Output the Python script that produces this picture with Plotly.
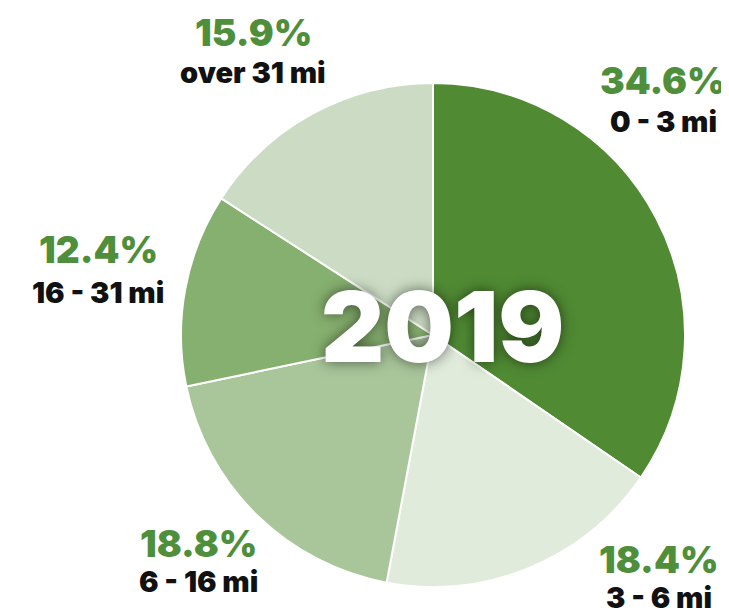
import plotly.graph_objects as go

categories = ["0 - 3 mi", "3 - 6 mi", "6 - 16 mi", "16 - 31 mi", "over 31 mi"]
shares = [34.6, 18.4, 18.8, 12.4, 15.9]
year_label = "2019"

slice_colors = ["#508a33", "#e0ebdc", "#a8c69a", "#86b06f", "#ccdcc4"]
# label anchor positions (pixels) for each category: (x, y_percent, y_category)
label_pos = [(655, 72, 114), (651, 551, 589), (190, 535, 573), (90, 242, 284), (245, 24, 64)]

W, H = 729, 616
fig = go.Figure()
fig.add_trace(go.Pie(
    values=shares,
    labels=categories,
    sort=False,
    direction="clockwise",
    rotation=0,
    marker=dict(colors=slice_colors, line=dict(color="white", width=2)),
    textinfo="none",
    hoverinfo="label+value",
    domain=dict(x=[173 / W, 677 / W], y=[(H - 579) / H, (H - 75) / H]),
    showlegend=False,
))

FONT = "Inter"
ann = []
for cat, val, (x, yp, yc) in zip(categories, shares, label_pos):
    ann.append(dict(x=x / W, y=1 - yp / H, xref="paper", yref="paper",
                    text=f"{val:.1f}%", showarrow=False, xanchor="center", yanchor="middle",
                    font=dict(family=FONT, size=37, color="#4f8f3c", weight=900)))
    ann.append(dict(x=x / W, y=1 - yc / H, xref="paper", yref="paper",
                    text=cat, showarrow=False, xanchor="center", yanchor="middle",
                    font=dict(family=FONT, size=29, color="#111111", weight=900)))
ann.append(dict(x=434 / W, y=1 - 318 / H, xref="paper", yref="paper", text=year_label,
                showarrow=False, xanchor="center", yanchor="middle",
                font=dict(family=FONT, size=98, color="white", weight=900,
                          shadow="0px 0px 14px rgba(0,0,0,0.55)")))

fig.update_layout(
    width=W, height=H,
    margin=dict(l=0, r=0, t=0, b=0),
    paper_bgcolor="white", plot_bgcolor="white",
    annotations=ann,
)
fig.write_html("out.html")
